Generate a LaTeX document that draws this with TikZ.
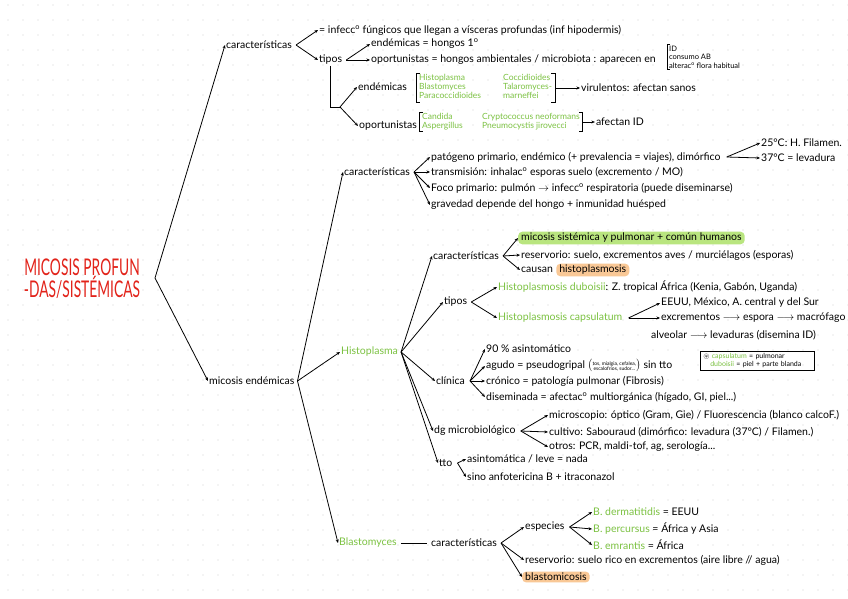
\documentclass[tikz,border=0pt]{standalone}
\usepackage{fontspec}
\setmainfont{Lato}
\usepackage{amssymb}
\usetikzlibrary{arrows.meta}
\definecolor{hg}{HTML}{7CC242}
\definecolor{hlg}{HTML}{B9E57F}
\definecolor{hlo}{HTML}{F9C896}
\definecolor{tred}{HTML}{E2231A}
\newcommand{\gr}[1]{\textcolor{hg}{#1}}
\newcommand{\oo}{\textsuperscript{o}}
\begin{document}
\begin{tikzpicture}[x=1pt,y=-1pt,
 t/.style={anchor=west,inner sep=1pt,font=\fontsize{10.5}{11}\selectfont},
 gt/.style={t,text=hg},
 ln/.style={line width=0.8pt},
 ar/.style={ln,-{Stealth[length=3.5pt,width=3pt]}},
 hlbox/.style={t,rounded corners=4pt,inner xsep=3pt,inner ysep=1.5pt},
 smallg/.style={t,text=hg,font=\fontsize{8.5}{9}\selectfont,inner xsep=3pt,inner ysep=0.5pt},
]
\useasboundingbox (0,0) rectangle (848,599);
\fill[white] (0,0) rectangle (848,599);
\foreach \i in {0,...,56} \foreach \j in {0,...,40} \fill[black!18] (8+15*\i,5+15*\j) circle[radius=0.6pt];

% title
\node[text=tred, align=center, inner sep=0pt, font=\fontsize{23}{22}\selectfont] (title) at (82,279) {\scalebox{0.6}[1]{MICOSIS PROFUN}\\\scalebox{0.6}[1]{-DAS/SISTÉMICAS}};

\coordinate (b0) at (155,278);
\node[t] (car1) at (225,45) {características};
\node[t] (me) at (208,381) {micosis endémicas};
\draw[ar] (b0) -- (car1.west);
\draw[ar] (b0) -- (me.west);

% part 1
\coordinate (f1) at ([xshift=3pt]car1.east);
\node[t] (inf) at (318,30) {= infecc\oo{} fúngicos que llegan a vísceras profundas (inf hipodermis)};
\node[t] (tipos1) at (318,60) {tipos};
\draw[ar] (f1) -- (inf.west);
\draw[ar] (f1) -- (tipos1.west);
\coordinate (f2) at ([xshift=3pt]tipos1.east);
\node[t] (end1) at (370,44) {endémicas = hongos 1\oo};
\node[t] (opo1) at (370,60) {oportunistas = hongos ambientales / microbiota : aparecen en};
\draw[ar] (f2) -- (end1.west);
\draw[ar] (f2) -- (opo1.west);
\node[t,align=left,font=\fontsize{7.5}{8.5}\selectfont,inner xsep=2pt] (apar) at (667,57) {ID\\consumo AB\\alterac\oo{} flora habitual};
\draw[ln] ([xshift=3pt]apar.north west) -- (apar.north west) -- (apar.south west) -- ([xshift=3pt]apar.south west);

\coordinate (f3) at (340,107);
\draw[ln] (tipos1.south) -- (tipos1.south |- f3) -- (f3);
\node[t] (endem) at (357,87) {endémicas};
\node[t] (oport) at (358,126) {oportunistas};
\draw[ar] (f3) -- (endem.west);
\draw[ar] (f3) -- (oport.west);

\node[smallg] (endbox) at (416,88) {\begin{tabular}{@{}p{84pt}@{}l@{}}Histoplasma & Coccidioides\\ Blastomyces & Talaromyces-\\ Paracoccidioides & marneffei\end{tabular}};
\draw[ln] ([xshift=4pt]endbox.north west) -- (endbox.north west) -- (endbox.south west) -- ([xshift=4pt]endbox.south west);
\draw[ln] ([xshift=-4pt]endbox.north east) -- (endbox.north east) -- (endbox.south east) -- ([xshift=-4pt]endbox.south east);
\node[t] (vir) at (580,88) {virulentos: afectan sanos};
\draw[ar] (endbox.east) -- (vir.west);

\node[smallg] (opbox) at (419,122) {\begin{tabular}{@{}p{60pt}@{}l@{}}Candida & Cryptococcus neoformans\\ Aspergillus & Pneumocystis jirovecci\end{tabular}};
\draw[ln] ([xshift=4pt]opbox.north west) -- (opbox.north west) -- (opbox.south west) -- ([xshift=4pt]opbox.south west);
\draw[ln] ([xshift=-4pt]opbox.north east) -- (opbox.north east) -- (opbox.south east) -- ([xshift=-4pt]opbox.south east);
\node[t] (afid) at ([xshift=12pt]opbox.east) {afectan ID};
\draw[ar] (opbox.east) -- (afid.west);

% part 2
\coordinate (f4) at ([xshift=2pt]me.east);
\node[t] (car2) at (343,172) {características};
\node[gt] (histo) at (340,352) {Histoplasma};
\node[gt] (blasto) at (338,543) {Blastomyces};
\draw[ar] (f4) -- (car2.west);
\draw[ar] (f4) -- (histo.west);
\draw[ar] (f4) -- (blasto.west);

\coordinate (f5) at ([xshift=3pt]car2.east);
\node[t] (pat) at (430,157) {patógeno primario, endémico (+ prevalencia = viajes), dimórfico};
\node[t] (trans) at (430,172) {transmisión: inhalac\oo{} esporas suelo (excremento / MO)};
\node[t] (foco) at (430,188) {Foco primario: pulmón $\rightarrow$ infecc\oo{} respiratoria (puede diseminarse)};
\node[t] (grav) at (430,205) {gravedad depende del hongo + inmunidad huésped};
\foreach \n in {pat,trans,foco,grav} \draw[ar] (f5) -- (\n.west);

\coordinate (f6) at ([xshift=5pt]pat.east);
\node[t] (t25) at (760,143) {25°C: H. Filamen.};
\node[t] (t37) at (760,158) {37°C = levadura};
\draw[ar] (f6) -- (t25.west);
\draw[ar] (f6) -- (t37.west);

% Histoplasma
\coordinate (f7) at ([xshift=2pt]histo.east);
\node[t] (car3) at (432,256) {características};
\node[t] (tipos2) at (443,302) {tipos};
\node[t] (clin) at (435,381) {clínica};
\node[t] (dg) at (433,431) {dg microbiológico};
\node[t] (tto) at (438,463) {tto};
\foreach \n in {car3,tipos2,clin,dg,tto} \draw[ar] (f7) -- (\n.west);

\coordinate (f8) at ([xshift=3pt]car3.east);
\node[hlbox,fill=hlg] (micS) at (518,238) {micosis sistémica y pulmonar + común humanos};
\node[t] (res) at (520,255) {reservorio: suelo, excrementos aves / murciélagos (esporas)};
\node[t] (caus) at (520,270) {causan};
\node[hlbox,fill=hlo,anchor=west] (hpl) at ([xshift=2pt]caus.east) {histoplasmosis};
\foreach \n in {micS,res,caus} \draw[ar] (f8) -- (\n.west);

\coordinate (f9) at ([xshift=3pt]tipos2.east);
\node[t] (dub) at (497,287) {\gr{Histoplasmosis duboisii}: Z. tropical África (Kenia, Gabón, Uganda)};
\node[gt] (caps) at (497,318) {Histoplasmosis capsulatum};
\draw[ar] (f9) -- (dub.west);
\draw[ar] (f9) -- (caps.west);
\coordinate (f10) at ([xshift=5pt]caps.east);
\node[t] (eeuu) at (660,303) {EEUU, México, A. central y del Sur};
\node[t] (excr) at (660,318) {excrementos $\longrightarrow$ espora $\longrightarrow$ macrófago};
\node[t] (alv) at (650,335) {alveolar $\longrightarrow$ levaduras (disemina ID)};
\draw[ar] (f10) -- (eeuu.west);
\draw[ar] (f10) -- (excr.west);

\coordinate (f11) at ([xshift=4pt]clin.east);
\node[t] (as90) at (485,349) {90 \% asintomático};
\node[t] (agu) at (485,366) {agudo = pseudogripal $\left(\mbox{\fontsize{5}{5.5}\selectfont\begin{tabular}{@{}c@{}}tos, mialgia, cefalea,\\escalofríos, sudor...\end{tabular}}\right)$ sin tto};
\node[t] (cron) at (485,381) {crónico = patología pulmonar (Fibrosis)};
\node[t] (dis) at (485,397) {diseminada = afectac\oo{} multiorgánica (hígado, GI, piel...)};
\foreach \n in {as90,agu,cron,dis} \draw[ar] (f11) -- (\n.west);

\node[draw,line width=0.6pt,anchor=north west,inner xsep=3pt,inner ysep=2.5pt,font=\fontsize{7}{8}\selectfont,align=left,text width=108pt] (leg) at (700,351) {$\circledast$ \gr{capsulatum} = pulmonar\\ \hspace*{7pt}\gr{duboisii} = piel + parte blanda};

\coordinate (f12) at ([xshift=4pt]dg.east);
\node[t] (mic) at (548,415) {microscopio: óptico (Gram, Gie) / Fluorescencia (blanco calcoF.)};
\node[t] (cult) at (548,432) {cultivo: Sabouraud (dimórfico: levadura (37°C) / Filamen.)};
\node[t] (otr) at (548,447) {otros: PCR, maldi-tof, ag, serología...};
\foreach \n in {mic,cult,otr} \draw[ar] (f12) -- (\n.west);

\coordinate (f13) at ([xshift=4pt]tto.east);
\node[t] (asin) at (466,459) {asintomática / leve = nada};
\node[t] (sino) at (466,477) {sino anfotericina B + itraconazol};
\draw[ar] (f13) -- (asin.west);
\draw[ar] (f13) -- (sino.west);

% Blastomyces
\node[t] (car4) at (430,543) {características};
\draw[ln] ([xshift=3pt]blasto.east) -- ([xshift=-3pt]car4.west);
\coordinate (f14) at ([xshift=3pt]car4.east);
\node[t] (esp) at (524,527) {especies};
\node[t] (resB) at (524,560) {reservorio: suelo rico en excrementos (aire libre // agua)};
\node[hlbox,fill=hlo] (blmic) at (522,577) {blastomicosis};
\foreach \n in {esp,resB,blmic} \draw[ar] (f14) -- (\n.west);
\coordinate (f15) at ([xshift=4pt]esp.east);
\node[t] (bd) at (592,512) {\gr{B. dermatitidis} = EEUU};
\node[t] (bp) at (592,529) {\gr{B. percursus} = África y Asia};
\node[t] (be) at (592,545) {\gr{B. emrantis} = África};
\foreach \n in {bd,bp,be} \draw[ar] (f15) -- (\n.west);
\end{tikzpicture}
\end{document}
